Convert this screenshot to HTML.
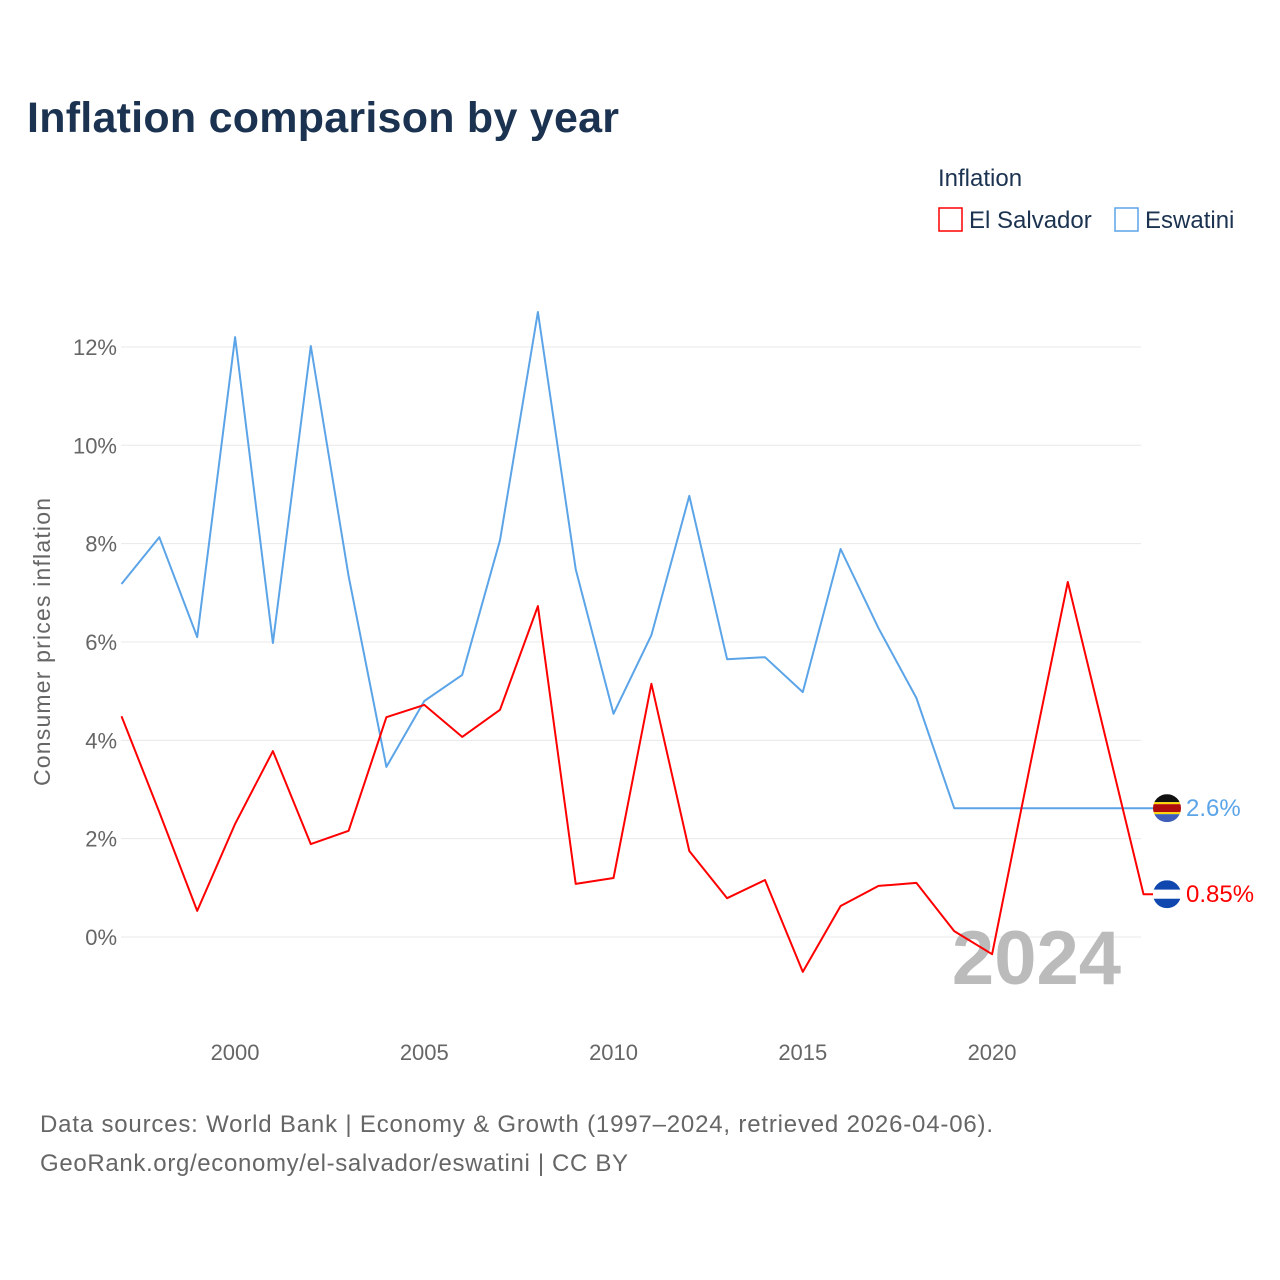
<!DOCTYPE html>
<html><head><meta charset="utf-8"><style>
body{margin:0;background:#fff;}
svg{display:block;font-family:"Liberation Sans",sans-serif;}
</style></head><body>
<svg id="chart" width="1280" height="1280" viewBox="0 0 1280 1280">
<text x="27" y="132" font-size="43" font-weight="bold" fill="#1b3350" textLength="592">Inflation comparison by year</text>
<text x="938" y="186" font-size="24" fill="#1b3350">Inflation</text>
<g>
<rect x="939" y="208" width="23" height="23" fill="#fff" stroke="#ff0000" stroke-width="1.5"/>
<text x="969" y="228" font-size="24" fill="#1b3350">El Salvador</text></g>
<g>
<rect x="1115" y="208" width="23" height="23" fill="#fff" stroke="#5ba4e8" stroke-width="1.5"/>
<text x="1145" y="228" font-size="24" fill="#1b3350">Eswatini</text></g>
<text transform="translate(50,642) rotate(-90)" text-anchor="middle" font-size="23" fill="#666" textLength="288">Consumer prices inflation</text>
<g id="grid"></g><g id="yticks"></g><g id="xticks"></g>
<text x="1121" y="984" text-anchor="end" font-size="76" font-weight="bold" fill="#bbbbbb">2024</text>
<g id="series"></g>
<text x="40" y="1132" font-size="24" fill="#666" textLength="953">Data sources: World Bank | Economy &amp; Growth (1997–2024, retrieved 2026-04-06).</text>
<text x="40" y="1171" font-size="24" fill="#666" textLength="588">GeoRank.org/economy/el-salvador/eswatini | CC BY</text>
</svg>
<script>
const years=[1997,1998,1999,2000,2001,2002,2003,2004,2005,2006,2007,2008,2009,2010,2011,2012,2013,2014,2015,2016,2017,2018,2019,2020,2021,2022,2023,2024];
const elSalvador=[4.49,2.54,0.53,2.3,3.78,1.89,2.16,4.47,4.72,4.07,4.62,6.73,1.08,1.2,5.15,1.75,0.79,1.16,-0.71,0.63,1.04,1.1,0.12,-0.35,3.47,7.22,4.05,0.87];
const eswatini=[7.18,8.13,6.1,12.2,5.98,12.02,7.34,3.46,4.8,5.33,8.07,12.71,7.48,4.54,6.14,8.97,5.65,5.69,4.98,7.89,6.28,4.86,2.62,2.62,2.62,2.62,2.62,2.62];
const yTicks=[0,2,4,6,8,10,12];
const xTicks=[2000,2005,2010,2015,2020];
const NS="http://www.w3.org/2000/svg";
function X(y){return 121.5+(y-1997)*37.85;}
function Y(v){return 937-v*49.17;}
function mk(t,a,p){const e=document.createElementNS(NS,t);for(const k in a)e.setAttribute(k,a[k]);p.appendChild(e);return e;}
const grid=document.getElementById('grid'),yt=document.getElementById('yticks'),xt=document.getElementById('xticks'),ser=document.getElementById('series');
yTicks.forEach(v=>{
 const l=mk('line',{x1:121,x2:1141,y1:Y(v),y2:Y(v),stroke:'#e8e8e8','stroke-width':1},grid);
 
 
 const t=mk('text',{x:117,y:Y(v)+8,'text-anchor':'end','font-size':22,fill:'#666'},yt);
 t.textContent=v+'%';
 
 
});
xTicks.forEach(v=>{
 const t=mk('text',{x:X(v),y:1060,'text-anchor':'middle','font-size':22,fill:'#666'},xt);
 t.textContent=v;
 
 
});
function line(vals,color,name){
 let d=vals.map((v,i)=>(i?'L':'M')+X(years[i]).toFixed(1)+' '+Y(v).toFixed(1)).join(' ');
 const last=vals[vals.length-1];
 d+=' L1155 '+Y(last).toFixed(1);
 const p=mk('path',{d:d,fill:'none',stroke:color,'stroke-width':2,'stroke-linejoin':'round'},ser);
 
 
}
line(eswatini,'#5ba4e8','eswatini');
line(elSalvador,'#ff0000','el-salvador');
function flag(v,name,stripes,labelColor,label){
 const cy=Y(v),cx=1167;
 const g=mk('g',{},ser);
 
 
 const id='clip-'+name;
 const cp=mk('clipPath',{id:id},g);mk('circle',{cx:cx,cy:cy,r:14},cp);
 const gg=mk('g',{'clip-path':'url(#'+id+')'},g);
 let yy=cy-14;
 stripes.forEach(s=>{mk('rect',{x:cx-14,y:yy,width:28,height:s[1],fill:s[0]},gg);yy+=s[1];});
 const t=mk('text',{x:1186,y:cy+8,'font-size':24,fill:labelColor},ser);
 t.textContent=label;
 
 
}
flag(eswatini[eswatini.length-1],'eswatini',[['#111111',8],['#ffd900',2],['#b10c0c',8],['#ffd900',2],['#3e5eb9',8]],'#5ba4e8','2.6%');
flag(elSalvador[elSalvador.length-1],'el-salvador',[['#0f47af',9.5],['#ffffff',9],['#0f47af',9.5]],'#ff0000','0.85%');
</script>
</body></html>
